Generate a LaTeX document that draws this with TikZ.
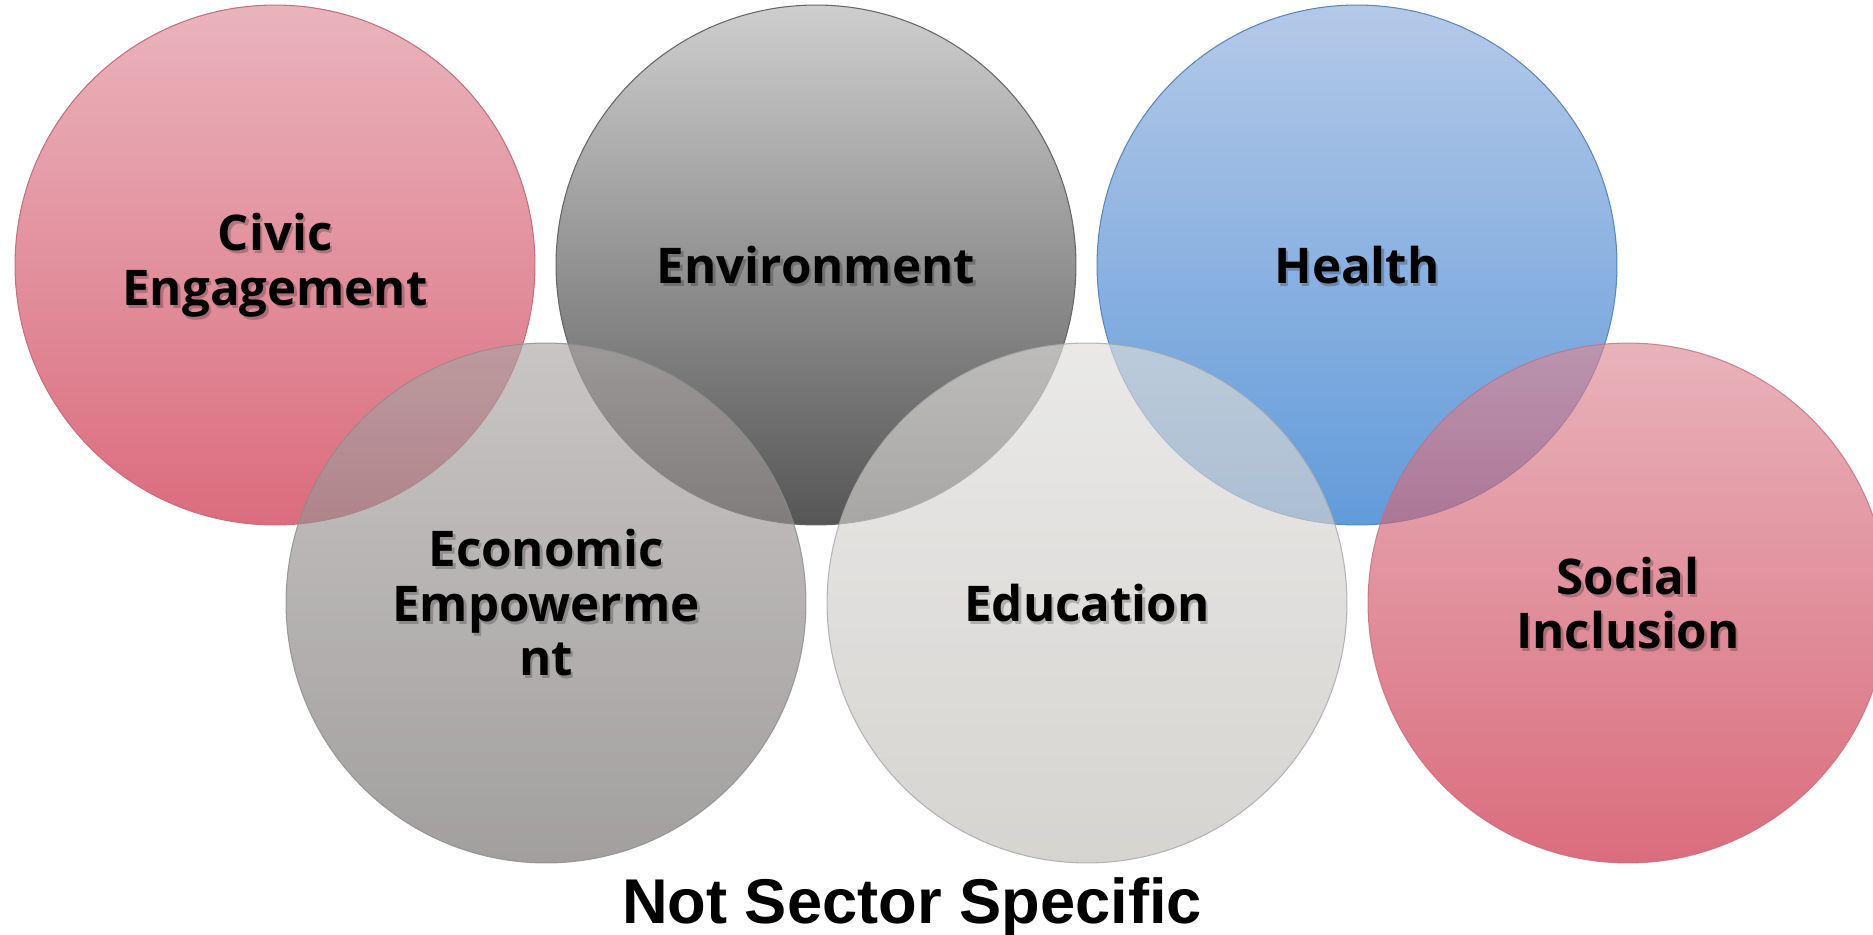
\documentclass[tikz,border=0pt]{standalone}
\usepackage{fontspec}
\newfontfamily\vennfont{Open Sans}
\newfontfamily\titlefont{Liberation Sans}
\usepackage{xcolor}
\usetikzlibrary{positioning}

\definecolor{civictop}{RGB}{233,180,188}
\definecolor{civicbot}{RGB}{219,108,126}
\definecolor{civicline}{RGB}{200,110,125}
\definecolor{envtop}{RGB}{206,206,206}
\definecolor{envbot}{RGB}{86,86,86}
\definecolor{healthtop}{RGB}{180,201,232}
\definecolor{healthbot}{RGB}{98,155,218}
\definecolor{healthline}{RGB}{90,135,190}
\definecolor{econtop}{RGB}{172,166,166}
\definecolor{econbot}{RGB}{112,107,107}
\definecolor{edutop}{RGB}{222,221,218}
\definecolor{edubot}{RGB}{192,189,185}
\definecolor{socialtop}{RGB}{220,137,149}
\definecolor{socialbot}{RGB}{198,30,56}

% label with a soft drop shadow
\newcommand{\vennlabel}[2]{%
  \node[lbl, text=black, text opacity=.22] at ([shift={(2.5,3)}]#1.center) {#2};
  \node[lbl] (#1-lbl) at (#1.center) {#2};}

\begin{document}
\begin{tikzpicture}[x=0.02cm, y=-0.02cm,
  venn/.style={circle, minimum size=10.4cm, inner sep=0pt, line width=0.6pt},
  front/.style={venn, fill opacity=.65, draw opacity=.8},
  lbl/.style={align=center, text=black, font=\vennfont\bfseries\fontsize{28}{31}\selectfont}]
	\useasboundingbox (0,0) rectangle (1873,935);
	% back row
	\node[venn, draw=civicline, top color=civictop, bottom color=civicbot] (civic) at (275,265) {};
	\node[venn, draw=black!60, top color=envtop, bottom color=envbot] (env) at (816,265) {};
	\node[venn, draw=healthline, top color=healthtop, bottom color=healthbot] (health) at (1357,265) {};
	% front row
	\node[front, draw=black!45, top color=econtop, bottom color=econbot] (econ) at (546,603) {};
	\node[front, draw=black!35, top color=edutop, bottom color=edubot] (edu) at (1087,603) {};
	\node[front, draw=civicline, top color=socialtop, bottom color=socialbot] (social) at (1628,603) {};
	% labels
	\vennlabel{civic}{Civic\\Engagement}
	\vennlabel{env}{Environment}
	\vennlabel{health}{Health}
	\vennlabel{econ}{Economic\\Empowerme\\nt}
	\vennlabel{edu}{Education}
	\vennlabel{social}{Social\\Inclusion}
	% caption
	\node[anchor=base, font=\titlefont\bfseries\fontsize{36}{40}\selectfont] (title) at (912,923) {Not Sector Specific};
\end{tikzpicture}
\end{document}
